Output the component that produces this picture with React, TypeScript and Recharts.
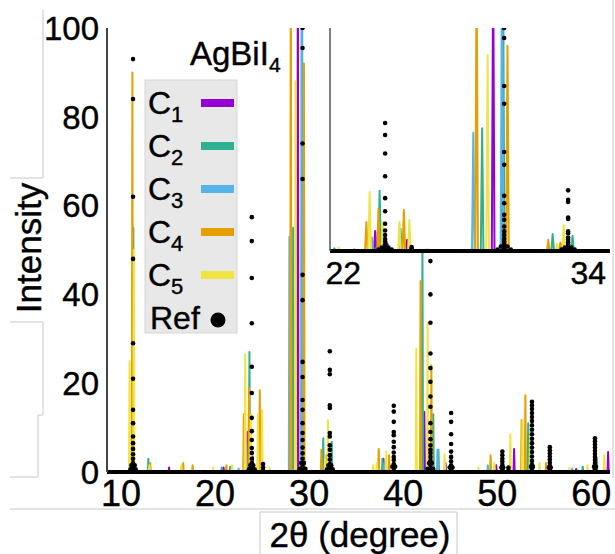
import { ComposedChart, Line, Scatter, XAxis, YAxis } from 'recharts'

const FONT = '"Liberation Sans", Arial, Helvetica, sans-serif'

// computed patterns, [2θ, intensity] for every peak
const c1Peaks = [
	[11.25, 42], [15.1, 1], [20.9, 1], [23.45, 9], [24.0, 3.5], [24.9, 5],
	[28.8, 130], [32.2, 4], [37.9, 3], [42.25, 13.5], [44.5, 2], [49.9, 1.5],
	[51.8, 5.2], [58.4, 0.7], [61.8, 4.5],
]
const c2Peaks = [
	[11.3, 55], [12.9, 3], [20.7, 1], [21.6, 1.2], [23.65, 27], [24.6, 10],
	[28.3, 55], [29.25, 130], [31.5, 7.6], [32.4, 6.8], [37.8, 3], [42.05, 52],
	[43.2, 13], [43.75, 5], [53.3, 11], [59.1, 1.2], [60.6, 3.2],
]
const c3Peaks = [
	[11.2, 45], [22.5, 0.8], [23.3, 6], [27.9, 53], [29.2, 130], [31.9, 3],
	[38.0, 2], [43.65, 5], [49.0, 1.5], [53.6, 9], [58.0, 0.8],
]
const c4Peaks = [
	[11.2, 90], [13.1, 2], [16.6, 2], [17.6, 1.5], [21.2, 1.5], [23.05, 13],
	[23.6, 19], [24.75, 18.4], [28.05, 130], [29.45, 92], [31.3, 5], [31.85, 3.8],
	[37.4, 5.2], [38.5, 3.8], [41.85, 43], [43.0, 24], [49.3, 3.8], [52.6, 11.7],
	[53.0, 17.3], [55.2, 2],
]
const c5Peaks = [
	[10.9, 25], [11.35, 50], [13.0, 1.5], [16.4, 1.5], [19.8, 1], [21.8, 1.5],
	[23.2, 26.5], [23.8, 13], [24.55, 13], [25.0, 14], [25.8, 1], [28.55, 88],
	[31.7, 3], [32.0, 11.7], [36.8, 1.5], [37.2, 2], [38.2, 4.6], [41.4, 27.7],
	[42.6, 33.5], [44.4, 4], [48.0, 1], [49.7, 2], [51.4, 8.5], [52.7, 11.7],
	[53.5, 8.8], [54.5, 2], [57.7, 1], [59.6, 1.5], [61.4, 3.8],
]

const seriesNames = ['1', '2', '3', '4', '5']
const seriesPeaks = [c1Peaks, c2Peaks, c3Peaks, c4Peaks, c5Peaks]
const seriesColors = ['#9400d3', '#2fb08f', '#56b4e9', '#e69f00', '#f0e442']

// reference pattern: dot heights stacked at each peak position
const refPeakPos = [11.27, 23.9, 25.1, 29.3, 32.2, 39.0, 42.9, 45.1, 50.55, 51.2, 53.7, 55.6, 60.4]
const refPeakHeights = [
	[93, 84, 62, 48, 29, 21, 14, 11, 8, 6.5, 5.2, 4, 3, 2, 1.2, 0.5],
	[57.4, 52, 43.7, 33.5, 23.7, 17.8, 12.2, 9.2, 7.2, 5.4, 4.3, 3, 2, 1.2, 0.5],
	[1.8, 1, 0.4],
	[100, 95.5, 74, 66, 44.4, 38.7, 24.8, 21.4, 16.2, 14, 11, 8.8, 7.2, 5.5, 4.2, 3, 2, 1.2, 0.5],
	[27.2, 23, 22, 15, 14.4, 8.8, 8, 6, 5, 3.8, 2.8, 1.8, 1, 0.4],
	[14.9, 13.6, 11.3, 9, 8.3, 6.8, 5.6, 4.4, 3.4, 2.7, 1.8, 1, 0.4],
	[47.5, 40, 33.6, 26.7, 23.4, 20.3, 17, 14.7, 11, 9, 7.4, 6, 5, 4.3, 3.4, 2.5, 1.6, 0.8],
	[13.3, 11.3, 8.5, 6.3, 4.6, 3.4, 2.4, 1.5, 0.7],
	[4.6, 3.8, 3, 2.3, 1.6, 1, 0.5],
	[1, 0.4],
	[15.8, 15, 14.2, 13.3, 12.4, 11.5, 10.5, 9.5, 8.5, 7.5, 6.5, 5.5, 4.5, 3.5, 2.5, 1.6, 0.8],
	[5.6, 4.9, 4.2, 3.5, 2.8, 2.1, 1.4, 0.7],
	[7.6, 6.9, 6.2, 5.5, 4.8, 4.1, 3.4, 2.7, 2, 1.3, 0.6],
]
const refShoulders = [
	[11.1, 1.5], [11.45, 1.5], [11.0, 0.6], [11.55, 0.6],
	[23.75, 1.5], [24.05, 1.5], [23.6, 0.6], [24.2, 0.6],
	[29.15, 2], [29.45, 2], [29.0, 0.7], [29.6, 0.7],
	[32.05, 1.5], [32.35, 1.5], [31.9, 0.6], [32.5, 0.6],
	[38.85, 1.2], [39.15, 1.2],
	[42.75, 2], [43.05, 2], [42.6, 0.7], [43.2, 0.7],
	[44.95, 1], [45.25, 1],
	[50.45, 1], [50.65, 1],
	[53.6, 1.2], [53.8, 1.2],
	[55.5, 1], [55.7, 1],
	[60.3, 1.2], [60.5, 1.2],
]

const xTicks = [10, 20, 30, 40, 50, 60]
const yTicks = [0, 20, 40, 60, 80, 100]
const yMinorTicks = [0, 10, 20, 30, 40, 50, 60, 70, 80, 90, 100]
const insetTicks = [22, 34]
const insetTopTicks = [22, 24, 26, 28, 30, 32, 34]

const X_DOMAIN = [8.5, 62]
const INSET_DOMAIN = [21.4, 34.1]
const HALF = 0.06

const spikes = (peaks: number[][]) =>
	[...peaks]
		.sort((a, b) => a[0] - b[0])
		.flatMap(([x, h]) => [
			{ x: x - HALF, y: 0 },
			{ x, y: h },
			{ x: x + HALF, y: 0 },
		])

const seriesData = seriesPeaks.map(spikes)
const refPoints = [
	...refPeakPos.flatMap((x, i) => refPeakHeights[i].map((y) => ({ x, y }))),
	...refShoulders.map(([x, y]) => ({ x, y })),
]

const dot = (props: any) => <circle cx={props.cx} cy={props.cy} r={2.3} fill="#000" />

const tickText = { fill: '#000', fontFamily: FONT, stroke: '#000', strokeWidth: 0.4 }

const seriesLines = (xId: string, yId: string) =>
	seriesData.map((d, i) => (
		<Line
			key={i}
			xAxisId={xId}
			yAxisId={yId}
			data={d}
			dataKey="y"
			type="linear"
			stroke={seriesColors[i]}
			strokeWidth={2}
			strokeLinejoin="round"
			dot={false}
			activeDot={false}
			isAnimationActive={false}
		/>
	))

const MainChart = () => (
	<ComposedChart width={615} height={554} margin={{ top: 28, right: 5, bottom: 0, left: 0 }}>
		<XAxis
			xAxisId="b"
			dataKey="x"
			type="number"
			domain={X_DOMAIN}
			ticks={xTicks}
			allowDataOverflow
			height={82}
			tickLine={false}
			axisLine={{ stroke: '#000', strokeWidth: 4 }}
			tick={{ fontSize: 36, ...tickText }}
		/>
		<XAxis
			xAxisId="t"
			type="number"
			orientation="top"
			mirror
			height={0}
			domain={X_DOMAIN}
			ticks={xTicks}
			tick={false}
			tickSize={5}
			tickLine={{ stroke: '#999' }}
			axisLine={{ stroke: '#777', strokeWidth: 1.5 }}
		/>
		<YAxis
			yAxisId="l"
			type="number"
			domain={[0, 100]}
			ticks={yTicks}
			allowDataOverflow
			width={107}
			tickLine={false}
			axisLine={{ stroke: '#444', strokeWidth: 2 }}
			tick={{ fontSize: 33, ...tickText }}
		/>
		<YAxis
			yAxisId="lm"
			type="number"
			mirror
			width={0}
			domain={[0, 100]}
			ticks={yMinorTicks}
			tick={false}
			tickSize={5}
			tickLine={{ stroke: '#aaa' }}
			axisLine={false}
		/>
		<YAxis
			yAxisId="r"
			type="number"
			orientation="right"
			mirror
			width={0}
			domain={[0, 100]}
			ticks={yMinorTicks}
			tick={false}
			tickSize={5}
			tickLine={{ stroke: '#aaa' }}
			axisLine={{ stroke: '#777', strokeWidth: 1.5 }}
		/>
		{seriesLines('b', 'l')}
		<Scatter
			xAxisId="b"
			yAxisId="l"
			data={refPoints}
			dataKey="y"
			shape={dot}
			isAnimationActive={false}
		/>
	</ComposedChart>
)

const insetRef = refPoints.filter((p) => p.x > INSET_DOMAIN[0] && p.x < INSET_DOMAIN[1])

const insetTick = (props: any) => {
	const last = props.payload.value === insetTicks[insetTicks.length - 1]
	return (
		<text
			x={last ? props.x + 3 : props.x}
			y={props.y}
			dy="0.71em"
			textAnchor={last ? 'end' : 'middle'}
			fontSize={32}
			{...tickText}
		>
			{props.payload.value}
		</text>
	)
}

const InsetChart = () => (
	<ComposedChart width={301} height={270} margin={{ top: 0, right: 1, bottom: 0, left: 20 }}>
		<XAxis
			xAxisId="b"
			dataKey="x"
			type="number"
			domain={INSET_DOMAIN}
			ticks={insetTicks}
			allowDataOverflow
			height={47}
			tickLine={false}
			tickMargin={4}
			axisLine={{ stroke: '#000', strokeWidth: 4 }}
			tick={insetTick}
		/>
		<XAxis
			xAxisId="t"
			type="number"
			orientation="top"
			mirror
			height={0}
			domain={INSET_DOMAIN}
			ticks={insetTopTicks}
			tick={false}
			tickSize={4}
			tickLine={{ stroke: '#bbb' }}
			axisLine={{ stroke: '#666', strokeWidth: 1.5 }}
		/>
		<YAxis
			yAxisId="l"
			type="number"
			mirror
			domain={[0, 100]}
			allowDataOverflow
			width={0}
			tick={false}
			tickLine={false}
			axisLine={{ stroke: '#555', strokeWidth: 2 }}
		/>
		<YAxis
			yAxisId="r"
			type="number"
			orientation="right"
			mirror
			width={0}
			domain={[0, 100]}
			ticks={yMinorTicks}
			tick={false}
			tickSize={4}
			tickLine={{ stroke: '#bbb' }}
			axisLine={{ stroke: '#666', strokeWidth: 1.5 }}
		/>
		{seriesLines('b', 'l')}
		<Scatter
			xAxisId="b"
			yAxisId="l"
			data={insetRef}
			dataKey="y"
			shape={dot}
			isAnimationActive={false}
		/>
	</ComposedChart>
)

const Overlay = () => (
	<svg width={615} height={554} style={{ position: 'absolute', left: 0, top: 0 }}>
		<g fontFamily={FONT} fill="#000" stroke="#000" strokeWidth={0.4}>
			<text x={190} y={65} fontSize={33}>
				AgBiI<tspan fontSize={21} dy={7}>4</tspan>
			</text>
			<rect x={145} y={80} width={92} height={253} fill="#e8e8e8" stroke="#d6d6d6" strokeWidth={1} />
			{seriesNames.map((n, i) => {
				const cy = 103 + i * 43
				return (
					<g key={n}>
						<text x={148} y={cy + 11} fontSize={32}>
							C<tspan fontSize={22} dy={8}>{n}</tspan>
						</text>
						<rect x={201} y={cy - 4} width={33} height={8} fill={seriesColors[i]} stroke="none" />
					</g>
				)
			})}
			<text x={150} y={103 + 5 * 43 + 11} fontSize={32}>
				Ref
			</text>
			<circle cx={218} cy={103 + 5 * 43 + 2} r={7.5} fill="#000" stroke="none" />
			<text x={28} y={248} fontSize={35} textAnchor="middle" transform="rotate(-90 28 248)" dy="0.36em">
				Intensity
			</text>
			<text x={360} y={547} fontSize={35} textAnchor="middle">
				2θ (degree)
			</text>
			<line x1={330} y1={28} x2={330} y2={251} stroke="#555" strokeWidth={1.5} />
		</g>
	</svg>
)

// faint frame lines left over in the source picture
const Frames = () => (
	<svg width={615} height={554} style={{ position: 'absolute', left: 0, top: 0 }}>
		<g fill="none" stroke="#c8c8c8" strokeWidth={1}>
			<path d="M43,10 V178 H10" />
			<path d="M10,322 H43 V415 H38 V477 H10" />
			<path d="M10,509 H615" />
			<path d="M260,554 V512 H457 V554" />
			<path d="M613,0 V478" />
		</g>
	</svg>
)

export default function App() {
	return (
		<div style={{ position: 'absolute', left: 0, top: 0, width: 615, height: 554, background: '#fff', overflow: 'hidden' }}>
			<Frames />
			<div style={{ position: 'absolute', left: 0, top: 0 }}>
				<MainChart />
			</div>
			<div style={{ position: 'absolute', left: 330, top: 28, width: 280, height: 223, background: '#fff' }} />
			<div style={{ position: 'absolute', left: 310, top: 28 }}>
				<InsetChart />
			</div>
			<Overlay />
		</div>
	)
}
